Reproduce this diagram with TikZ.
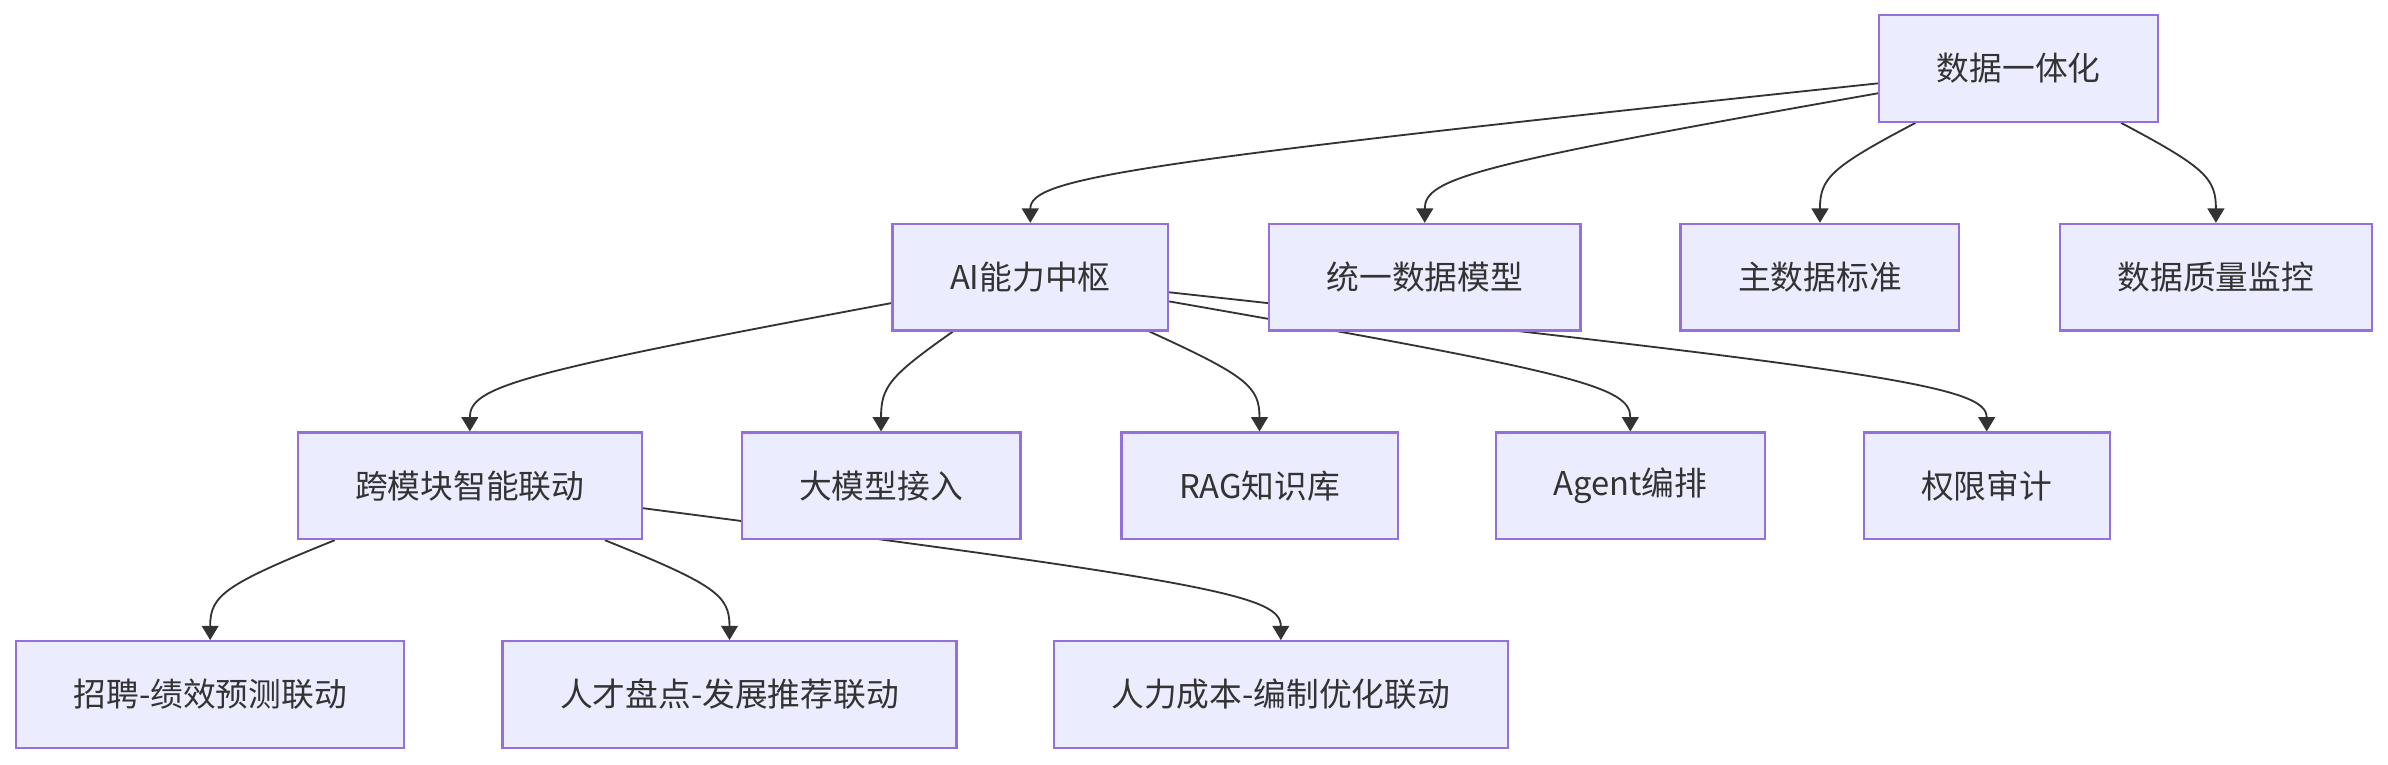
\documentclass[tikz,border=0pt]{standalone}
\usepackage{xcolor}
\usepackage{fontspec}
\usepackage{tikz}
\usetikzlibrary{arrows.meta, backgrounds}
\newfontfamily\cjk{Noto Sans CJK SC}
\definecolor{lavender}{HTML}{ECECFF}
\definecolor{lilacline}{HTML}{9370DB}
\definecolor{ink}{HTML}{333333}
\tikzset{
  box/.style={rectangle, draw=lilacline, fill=lavender, text=ink, line width=0.7pt, align=center, minimum height=35pt, inner xsep=18.9pt, font=\cjk\fontsize{10.75pt}{13pt}\selectfont},
  arrow/.style={-{Triangle[length=4.7pt, width=5.5pt]}, line width=0.6pt, color=ink},
}
\begin{document}
\begin{tikzpicture}[x=0.5pt, y=-0.5pt]
  \useasboundingbox (0,0) rectangle (1568,502);
  % top
  \node[box] (di) at (1325.5,45) {数据一体化};
  % second row
  \node[box] (ai) at (676.5,182) {AI能力中枢};
  \node[box] (model) at (935.5,182) {统一数据模型};
  \node[box] (master) at (1195,182) {主数据标准};
  \node[box] (quality) at (1455,182) {数据质量监控};
  % third row
  \node[box] (cross) at (308.5,319) {跨模块智能联动};
  \node[box] (llm) at (578.5,319) {大模型接入};
  \node[box] (rag) at (827,319) {RAG知识库};
  \node[box] (agent) at (1070.5,319) {Agent编排};
  \node[box] (audit) at (1304.5,319) {权限审计};
  % bottom row
  \node[box] (hire) at (138,456) {招聘-绩效预测联动};
  \node[box] (talent) at (479,456) {人才盘点-发展推荐联动};
  \node[box] (cost) at (841,456) {人力成本-编制优化联动};
  \begin{scope}[on background layer]
    \fill[white] (0,0) rectangle (1568,502);
    \draw[arrow] (di) .. controls (738,107) and (676.5,117) .. (ai);
    \draw[arrow] (di) .. controls (968,108) and (935.5,117) .. (model);
    \draw[arrow] (di) .. controls (1202,110) and (1195,117) .. (master);
    \draw[arrow] (di) .. controls (1448,110) and (1455,117) .. (quality);
    \draw[arrow] (ai) .. controls (339,245) and (308.5,254) .. (cross);
    \draw[arrow] (ai) .. controls (584,247) and (578.5,254) .. (llm);
    \draw[arrow] (ai) .. controls (819,247) and (827,254) .. (rag);
    \draw[arrow] (ai) .. controls (1037,245) and (1070.5,254) .. (agent);
    \draw[arrow] (ai) .. controls (1245,244) and (1304.5,254) .. (audit);
    \draw[arrow] (cross) .. controls (147,384) and (138,391) .. (hire);
    \draw[arrow] (cross) .. controls (470,384) and (479,391) .. (talent);
    \draw[arrow] (cross) .. controls (795,382) and (841,391) .. (cost);
  \end{scope}
\end{tikzpicture}
\end{document}
